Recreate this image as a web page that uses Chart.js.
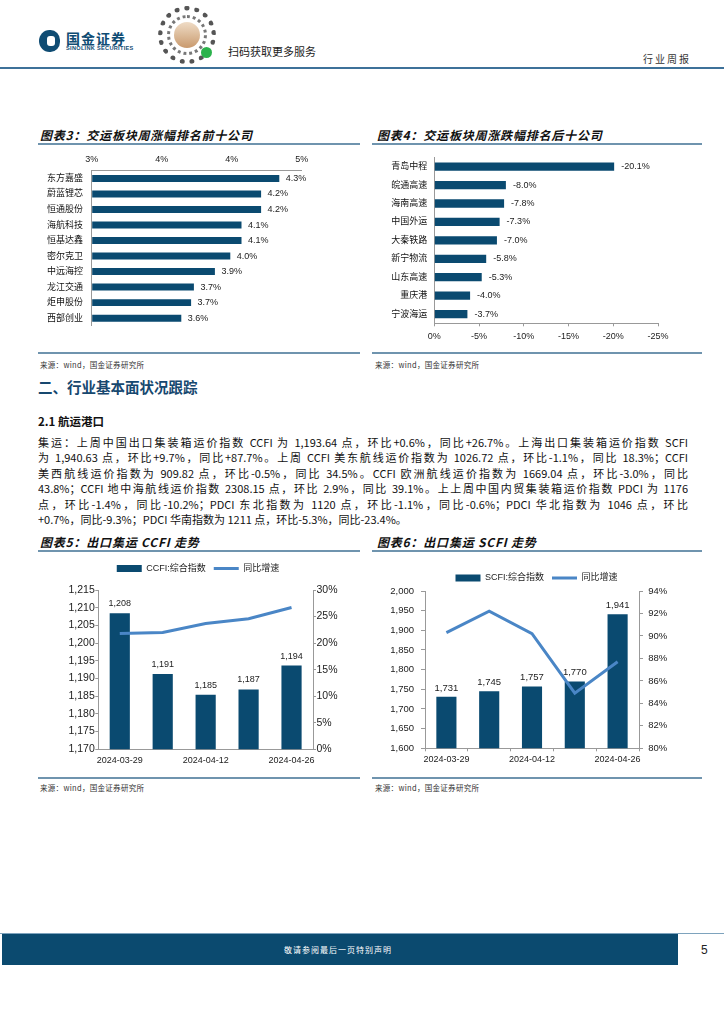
<!DOCTYPE html>
<html>
<head>
<meta charset="utf-8">
<script src="https://cdn.jsdelivr.net/npm/chart.js@4.4.1/dist/chart.umd.min.js"></script>
<style>
  body { margin: 0; background: #fff; }
  #page { position: relative; width: 724px; height: 1024px; overflow: hidden; font-family: 'Noto Sans CJK SC', sans-serif; color: #111; }
  .abs { position: absolute; white-space: nowrap; line-height: 1; }
  .title { font-weight: bold; font-style: italic; font-size: 12px; letter-spacing: 0.8px; color: #111; }
  .rule { position: absolute; height: 1.5px; background: #6f94ae; }
  .src { font-size: 7.5px; color: #333; letter-spacing: 0.3px; }
  .para { position: absolute; left: 38px; top: 435px; width: 650px; font-size: 11px; line-height: 15.4px; color: #111; }
  .para div { text-align: justify; text-align-last: justify; height: 15.4px; overflow: hidden; }
  .para div.last { text-align-last: left; }
  canvas { position: absolute; }
</style>
</head>
<body>
<div id="page">
  <!-- header -->
  <div style="position:absolute;left:39px;top:30px;width:21px;height:22px;background:#0f4c73;border-radius:50% 45% 45% 50%;"></div>
  <div style="position:absolute;left:47px;top:36px;width:8px;height:10px;background:#fff;border-radius:3px;"></div>
  <div class="abs" style="left:66px;top:31px;font-size:14px;font-weight:bold;letter-spacing:1px;color:#0f4c73;">国金证券</div>
  <div class="abs" style="left:66px;top:46px;font-size:5.6px;font-weight:bold;font-family:'Liberation Sans',sans-serif;letter-spacing:0.3px;color:#0f4c73;">SINOLINK SECURITIES</div>
  <div style="position:absolute;left:158px;top:6px;width:48px;height:48px;border:5px dotted #555;border-radius:50%;"></div>
  <div style="position:absolute;left:167px;top:15px;width:40px;height:40px;border:3px dotted #777;border-radius:50%;box-sizing:border-box;"></div>
  <div style="position:absolute;left:174px;top:22px;width:26px;height:26px;border-radius:50%;background:linear-gradient(#efdcc6,#c99a6e);"></div>
  <div style="position:absolute;left:201px;top:47px;width:11px;height:11px;border-radius:50%;background:#2bb24c;"></div>
  <div class="abs" style="left:228px;top:46px;font-size:11px;color:#222;">扫码获取更多服务</div>
  <div class="abs" style="left:643px;top:54px;font-size:10px;letter-spacing:2px;color:#333;">行业周报</div>
  <div style="position:absolute;left:0;top:67px;width:724px;height:2px;background:#3d7199;"></div>

  <!-- figure 3 / 4 -->
  <div class="abs title" style="left:40px;top:129px;">图表3：交运板块周涨幅排名前十公司</div>
  <div class="abs title" style="left:377px;top:129px;">图表4：交运板块周涨跌幅排名后十公司</div>
  <div class="rule" style="left:38px;top:143px;width:322px;"></div>
  <div class="rule" style="left:372px;top:143px;width:330px;"></div>
  <canvas id="c3" width="320" height="190" style="left:38px;top:150px;"></canvas>
  <canvas id="c4" width="327" height="205" style="left:373px;top:145px;"></canvas>
  <div class="rule" style="left:38px;top:352px;width:322px;"></div>
  <div class="rule" style="left:372px;top:352px;width:330px;"></div>
  <div class="abs src" style="left:40px;top:361px;">来源：wind，国金证券研究所</div>
  <div class="abs src" style="left:375px;top:361px;">来源：wind，国金证券研究所</div>

  <!-- text -->
  <div class="abs" style="left:38px;top:380px;font-size:14.5px;font-weight:bold;color:#17486f;">二、行业基本面状况跟踪</div>
  <div class="abs" style="left:38px;top:416px;font-size:11.5px;font-weight:bold;color:#111;">2.1 航运港口</div>
  <div class="para">
    <div>集运：上周中国出口集装箱运价指数 CCFI 为 1,193.64 点，环比+0.6%，同比+26.7%。上海出口集装箱运价指数 SCFI</div>
    <div>为 1,940.63 点，环比+9.7%，同比+87.7%。上周 CCFI 美东航线运价指数为 1026.72 点，环比-1.1%，同比 18.3%；CCFI</div>
    <div>美西航线运价指数为 909.82 点，环比-0.5%，同比 34.5%。CCFI 欧洲航线运价指数为 1669.04 点，环比-3.0%，同比</div>
    <div>43.8%；CCFI 地中海航线运价指数 2308.15 点，环比 2.9%，同比 39.1%。上上周中国内贸集装箱运价指数 PDCI 为 1176</div>
    <div>点，环比-1.4%，同比-10.2%；PDCI 东北指数为 1120 点，环比-1.1%，同比-0.6%；PDCI 华北指数为 1046 点，环比</div>
    <div class="last">+0.7%，同比-9.3%；PDCI 华南指数为 1211 点，环比-5.3%，同比-23.4%。</div>
  </div>

  <!-- figure 5 / 6 -->
  <div class="abs title" style="left:40px;top:536px;">图表5：出口集运 CCFI 走势</div>
  <div class="abs title" style="left:377px;top:536px;">图表6：出口集运 SCFI 走势</div>
  <div class="rule" style="left:38px;top:550px;width:322px;"></div>
  <div class="rule" style="left:372px;top:550px;width:330px;"></div>
  <canvas id="c5" width="320" height="216" style="left:38px;top:556px;"></canvas>
  <canvas id="c6" width="327" height="216" style="left:373px;top:556px;"></canvas>
  <div class="rule" style="left:38px;top:777px;width:322px;"></div>
  <div class="rule" style="left:372px;top:777px;width:330px;"></div>
  <div class="abs src" style="left:40px;top:784px;">来源：wind，国金证券研究所</div>
  <div class="abs src" style="left:375px;top:784px;">来源：wind，国金证券研究所</div>

  <!-- footer -->
  <div style="position:absolute;left:0;top:933px;width:724px;height:1px;background:#7ea3bd;"></div>
  <div style="position:absolute;left:2px;top:934px;width:676px;height:31px;background:#0b4a6f;"></div>
  <div class="abs" style="left:284px;top:946px;font-size:8px;letter-spacing:1px;color:#fff;">敬请参阅最后一页特别声明</div>
  <div class="abs" style="left:701px;top:944px;font-size:12px;font-family:'Liberation Sans',sans-serif;color:#222;">5</div>
</div>

<script>
// data
const topNames = ['东方嘉盛', '蔚蓝锂芯', '恒通股份', '海航科技', '恒基达鑫', '密尔克卫', '中远海控', '龙江交通', '炬申股份', '西部创业'];
const topChange = [4.34, 4.21, 4.21, 4.07, 4.07, 3.99, 3.88, 3.73, 3.71, 3.64];
const bottomNames = ['青岛中程', '皖通高速', '海南高速', '中国外运', '大秦铁路', '新宁物流', '山东高速', '重庆港', '宁波海运'];
const bottomChange = [-20.1, -8.0, -7.8, -7.3, -7.0, -5.8, -5.3, -4.0, -3.7];
const weekDates = ['2024-03-29', '2024-04-05', '2024-04-12', '2024-04-19', '2024-04-26'];
const ccfiIndex = [1208.4, 1191.3, 1185.4, 1186.9, 1193.64];
const ccfiYoy = [21.8, 22.0, 23.7, 24.6, 26.7];
const scfiIndex = [1731.2, 1745.3, 1757.4, 1769.9, 1940.63];
const scfiYoy = [90.3, 92.2, 90.2, 84.9, 87.7];

const BAR = '#0a4a70';
const LINE = '#4a86c6';
const AXIS = '#999';
const FONT = "'Liberation Sans', 'Noto Sans CJK SC', sans-serif";

// draws the value next to / above each bar of dataset 0
function valueLabels(fmt, size, gap) {
  return {
    id: 'valueLabels',
    afterDatasetsDraw(chart) {
      const ctx = chart.ctx;
      const data = chart.data.datasets[0].data;
      const horiz = chart.options.indexAxis === 'y';
      ctx.save();
      ctx.font = size + 'px ' + FONT;
      ctx.fillStyle = '#222';
      chart.getDatasetMeta(0).data.forEach((bar, i) => {
        if (horiz) {
          ctx.textAlign = 'left'; ctx.textBaseline = 'middle';
          ctx.fillText(fmt(data[i]), bar.x + gap, bar.y);
        } else {
          ctx.textAlign = 'center'; ctx.textBaseline = 'bottom';
          ctx.fillText(fmt(data[i]), bar.x, bar.y - gap);
        }
      });
      ctx.restore();
    }
  };
}

// extra space under the legend
function legendGap(px) {
  return {
    id: 'legendGap',
    beforeInit(chart) {
      const fit = chart.legend.fit;
      chart.legend.fit = function () { fit.call(this); this.height += px; };
    }
  };
}

const thousands = v => Math.round(v).toLocaleString('en-US');

// 图表3
new Chart(document.getElementById('c3'), {
  type: 'bar',
  data: { labels: topNames, datasets: [{ data: topChange, backgroundColor: BAR, base: 3, barPercentage: 0.45, categoryPercentage: 1 }] },
  options: {
    indexAxis: 'y', responsive: false, animation: false, devicePixelRatio: 1,
    layout: { padding: { top: 0, right: 56.3, bottom: 8, left: 0 } },
    plugins: { legend: { display: false }, tooltip: { enabled: false } },
    scales: {
      x: {
        position: 'top', min: 3, max: 4.5,
        ticks: { stepSize: 0.5, callback: v => v.toFixed(0) + '%', font: { size: 9, family: FONT }, color: '#222', padding: 5.3 },
        grid: { drawOnChartArea: false, drawTicks: false }, border: { color: AXIS },
        afterFit: s => { s.height = 20.7; }
      },
      y: {
        ticks: { font: { size: 9, family: FONT }, color: '#111', padding: 8.7 },
        grid: { drawOnChartArea: false, drawTicks: false }, border: { color: AXIS },
        afterFit: s => { s.width = 53.7; }
      }
    }
  },
  plugins: [valueLabels(v => v.toFixed(1) + '%', 9, 6.5)]
});

// 图表4
new Chart(document.getElementById('c4'), {
  type: 'bar',
  data: { labels: bottomNames, datasets: [{ data: bottomChange, backgroundColor: BAR, barPercentage: 0.45, categoryPercentage: 1 }] },
  options: {
    indexAxis: 'y', responsive: false, animation: false, devicePixelRatio: 1,
    layout: { padding: { top: 11.8, right: 42, bottom: 0, left: 0 } },
    plugins: { legend: { display: false }, tooltip: { enabled: false } },
    scales: {
      x: {
        min: -25, max: 0, reverse: true,
        ticks: { stepSize: 5, callback: v => v + '%', font: { size: 9, family: FONT }, color: '#222', padding: 5.3 },
        grid: { drawOnChartArea: false, tickLength: 3, color: AXIS }, border: { color: AXIS },
        afterFit: s => { s.height = 26.7; }
      },
      y: {
        ticks: { font: { size: 9, family: FONT }, color: '#111', padding: 7 },
        grid: { drawOnChartArea: false, drawTicks: false }, border: { color: AXIS },
        afterFit: s => { s.width = 61.3; }
      }
    }
  },
  plugins: [valueLabels(v => v.toFixed(1) + '%', 9, 7)]
});

function comboChart(id, barLabel, bars, yoy, opt) {
  return new Chart(document.getElementById(id), {
    data: {
      labels: weekDates,
      datasets: [
        { type: 'bar', label: barLabel, data: bars, backgroundColor: BAR, yAxisID: 'y', order: 2, barPercentage: 0.47, categoryPercentage: 1 },
        { type: 'line', label: '同比增速', data: yoy, borderColor: LINE, backgroundColor: LINE, borderWidth: 3, pointRadius: 0, tension: 0, yAxisID: 'y1', order: 1 }
      ]
    },
    options: {
      responsive: false, animation: false, devicePixelRatio: 1,
      layout: { padding: { top: opt.padTop, right: 0, bottom: 0, left: 0 } },
      plugins: {
        tooltip: { enabled: false },
        legend: {
          position: 'top',
          labels: {
            usePointStyle: true, pointStyleWidth: 25, boxHeight: 7, padding: 8,
            font: { size: 9, family: FONT }, color: '#222',
            generateLabels(chart) {
              const items = Chart.defaults.plugins.legend.labels.generateLabels(chart);
              items.forEach(it => { it.pointStyle = chart.data.datasets[it.datasetIndex].type === 'line' ? 'line' : 'rect'; });
              return items.sort((a, b) => a.datasetIndex - b.datasetIndex);
            }
          }
        }
      },
      scales: {
        x: {
          ticks: { autoSkip: false, maxRotation: 0, font: { size: 9, family: FONT }, color: '#222', padding: opt.xPad,
            callback: function (v, i) { return i % 2 === 0 ? this.getLabelForValue(v) : ''; } },
          grid: { drawOnChartArea: false, drawTicks: opt.xTicks, tickLength: 3, color: AXIS }, border: { color: AXIS },
          afterFit: s => { s.height = opt.xH; }
        },
        y: {
          position: 'left', min: opt.yMin, max: opt.yMax,
          ticks: { stepSize: opt.yStep, callback: v => thousands(v), font: { size: opt.tickSize, family: FONT }, color: '#222', padding: opt.yPad },
          grid: { drawOnChartArea: false, tickLength: opt.tl, color: AXIS }, border: { color: AXIS },
          afterFit: s => { s.width = opt.yW; }
        },
        y1: {
          position: 'right', min: opt.rMin, max: opt.rMax,
          ticks: { stepSize: opt.rStep, callback: v => v + '%', font: { size: opt.tickSize, family: FONT }, color: '#222', padding: opt.rPad },
          grid: { drawOnChartArea: false, tickLength: opt.tl, color: AXIS }, border: { color: AXIS },
          afterFit: s => { s.width = opt.rW; }
        }
      }
    },
    plugins: [valueLabels(thousands, opt.labelSize, opt.labelGap), legendGap(opt.gap)]
  });
}

// 图表5
comboChart('c5', 'CCFI:综合指数', ccfiIndex, ccfiYoy, {
  padTop: 0, gap: 7, xH: 22.7, xPad: 6, xTicks: false,
  yMin: 1170, yMax: 1215, yStep: 5, yW: 60.3, yPad: 0.5, tl: 3,
  rMin: 0, rMax: 30, rStep: 5, rW: 45, rPad: 0.5,
  tickSize: 10.5, labelSize: 9, labelGap: 5
});

// 图表6
comboChart('c6', 'SCFI:综合指数', scfiIndex, scfiYoy, {
  padTop: 9.5, gap: -1.5, xH: 23.7, xPad: 3, xTicks: true,
  yMin: 1600, yMax: 2000, yStep: 50, yW: 52, yPad: 7, tl: 4,
  rMin: 80, rMax: 94, rStep: 2, rW: 61, rPad: 5.3,
  tickSize: 9.5, labelSize: 9.5, labelGap: 4
});
</script>
</body>
</html>
